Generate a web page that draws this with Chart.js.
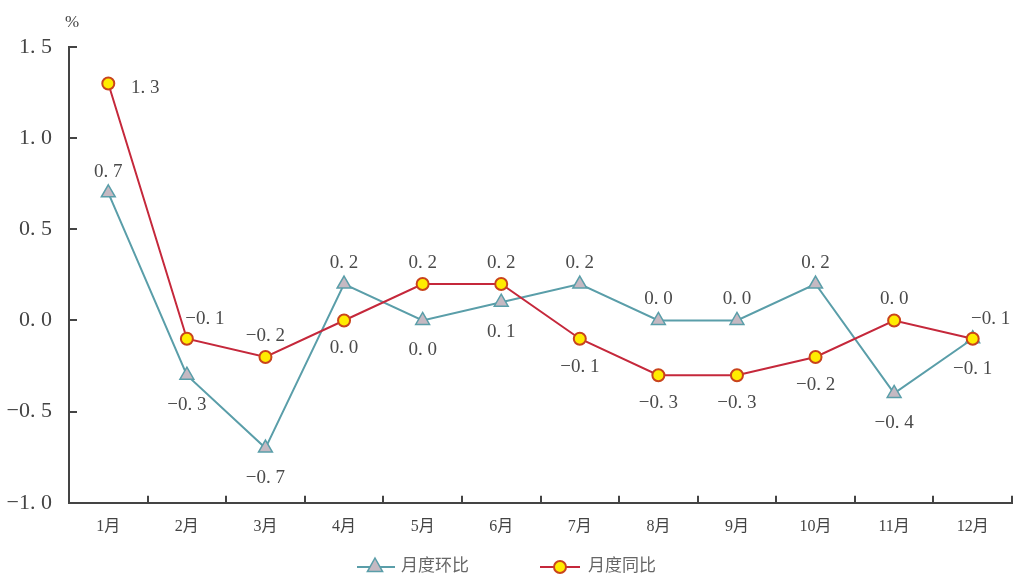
<!DOCTYPE html>
<html>
<head>
<meta charset="utf-8">
<script src="https://cdn.jsdelivr.net/npm/chart.js@4.4.0/dist/chart.umd.min.js"></script>
<style>
  body { margin: 0; background: #fff; }
  #wrap { width: 1024px; height: 587px; position: relative; }
</style>
</head>
<body>
<div id="wrap"><canvas id="myChart"></canvas></div>
<script>
var months = ['1月', '2月', '3月', '4月', '5月', '6月', '7月', '8月', '9月', '10月', '11月', '12月'];
var huanbi = [0.7, -0.3, -0.7, 0.2, 0.0, 0.1, 0.2, 0.0, 0.0, 0.2, -0.4, -0.1];
var tongbi = [1.3, -0.1, -0.2, 0.0, 0.2, 0.2, -0.1, -0.3, -0.3, -0.2, 0.0, -0.1];
var seriesNames = ['月度环比', '月度同比'];
var yMin = -1.0, yMax = 1.5, yStep = 0.5;

// where each value label sits relative to its point
var huanbiPos = ['above', 'below', 'below', 'above', 'below', 'below', 'above', 'above', 'above', 'above', 'below', 'below'];
var tongbiPos = ['right', 'aboveRight', 'above', 'below', 'above', 'above', 'below', 'below', 'below', 'below', 'above', 'aboveRight'];

var tealLine = '#5a9ea9', tealFill = '#c5b9c2';
var redLine = '#c5283b', yellow = '#ffec00', redEdge = '#c9441c';
var numFont = '"Liberation Serif", "DejaVu Serif", serif';
var cjkFont = '"Liberation Serif", "Noto Sans CJK SC", serif';

function fmt(v) {
    return v.toFixed(1).replace('-', '\u2212').replace('.', '. ');
}

function drawTriangle(g, x, y, r) {
    g.beginPath();
    g.moveTo(x, y - r);
    g.lineTo(x + r * 0.95, y + r * 0.7);
    g.lineTo(x - r * 0.95, y + r * 0.7);
    g.closePath();
    g.fill(); g.stroke();
}

var extras = {
    id: 'extras',
    afterDatasetsDraw: function(chart) {
        var ctx = chart.ctx;
        var xs = chart.scales.x, ys = chart.scales.y;
        ctx.save();
        // inward tick marks
        ctx.strokeStyle = '#444'; ctx.lineWidth = 2;
        var half = (xs.getPixelForValue(1) - xs.getPixelForValue(0)) / 2;
        for (var i = 1; i <= months.length; i++) {
            var px = Math.round(xs.getPixelForValue(i - 1) + half);
            ctx.beginPath(); ctx.moveTo(px, ys.bottom); ctx.lineTo(px, ys.bottom - 7); ctx.stroke();
        }
        for (var v = yMin; v <= yMax + 1e-9; v += yStep) {
            var py = Math.round(ys.getPixelForValue(v));
            ctx.beginPath(); ctx.moveTo(xs.left, py); ctx.lineTo(xs.left + 8, py); ctx.stroke();
        }
        // unit
        ctx.fillStyle = '#444';
        ctx.font = '17px ' + numFont;
        ctx.textAlign = 'center'; ctx.textBaseline = 'middle';
        ctx.fillText('%', xs.left + 3, ys.top - 24);
        // value labels
        ctx.font = '19px ' + numFont;
        ctx.fillStyle = '#4a4a4a';
        var sets = [[huanbi, huanbiPos], [tongbi, tongbiPos]];
        sets.forEach(function(s, di) {
            var meta = chart.getDatasetMeta(di);
            meta.data.forEach(function(pt, j) {
                var pos = s[1][j], dx = 0, dy = 0;
                if (pos == 'above') dy = -21;
                else if (pos == 'below') dy = di == 0 ? 30 : 28;
                else if (pos == 'right') { dx = 37; dy = 5; }
                else if (pos == 'aboveRight') { dx = 18; dy = -20; }
                ctx.fillText(fmt(s[0][j]), pt.x + dx, pt.y + dy);
            });
        });
        // legend
        var ly = 567;
        ctx.lineWidth = 2;
        ctx.strokeStyle = tealLine;
        ctx.beginPath(); ctx.moveTo(357, ly); ctx.lineTo(395, ly); ctx.stroke();
        ctx.fillStyle = tealFill; ctx.lineWidth = 1.5;
        drawTriangle(ctx, 375, ly - 1, 8);
        ctx.lineWidth = 2;
        ctx.strokeStyle = redLine;
        ctx.beginPath(); ctx.moveTo(540, ly); ctx.lineTo(580, ly); ctx.stroke();
        ctx.fillStyle = yellow; ctx.strokeStyle = redEdge;
        ctx.beginPath(); ctx.arc(560, ly, 6, 0, Math.PI * 2); ctx.fill(); ctx.stroke();
        ctx.fillStyle = '#666';
        ctx.font = '17px ' + cjkFont;
        ctx.textAlign = 'left';
        ctx.fillText(seriesNames[0], 401, ly);
        ctx.fillText(seriesNames[1], 588, ly);
        ctx.restore();
    }
};

var ctx = document.getElementById('myChart').getContext('2d');
var chart = new Chart(ctx, {
    type: 'line',
    data: {
        labels: months,
        datasets: [
            {
                label: seriesNames[0],
                data: huanbi,
                borderColor: tealLine,
                borderWidth: 2,
                pointStyle: 'triangle',
                pointRadius: 8,
                pointBackgroundColor: tealFill,
                pointBorderColor: tealLine,
                pointBorderWidth: 1.5,
                order: 2
            },
            {
                label: seriesNames[1],
                data: tongbi,
                borderColor: redLine,
                borderWidth: 2,
                pointStyle: 'circle',
                pointRadius: 6,
                pointBackgroundColor: yellow,
                pointBorderColor: redEdge,
                pointBorderWidth: 2,
                order: 1
            }
        ]
    },
    options: {
        responsive: true,
        maintainAspectRatio: false,
        animation: false,
        layout: { padding: { top: 47, right: 12, left: 0, bottom: 45 } },
        plugins: {
            tooltip: { enabled: false },
            legend: { display: false }
        },
        scales: {
            x: {
                offset: true,
                grid: { display: false, offset: true },
                border: { display: true, color: '#444', width: 2 },
                ticks: { color: '#444', padding: 6, font: { family: cjkFont, size: 16 } }
            },
            y: {
                min: yMin,
                max: yMax,
                afterFit: function(scale) { scale.width = 69; },
                grid: { display: false },
                border: { display: true, color: '#444', width: 2 },
                ticks: {
                    stepSize: yStep,
                    color: '#444',
                    padding: 9,
                    font: { family: numFont, size: 22 },
                    callback: function(v) { return fmt(v); }
                }
            }
        }
    },
    plugins: [extras]
});
</script>
</body>
</html>
